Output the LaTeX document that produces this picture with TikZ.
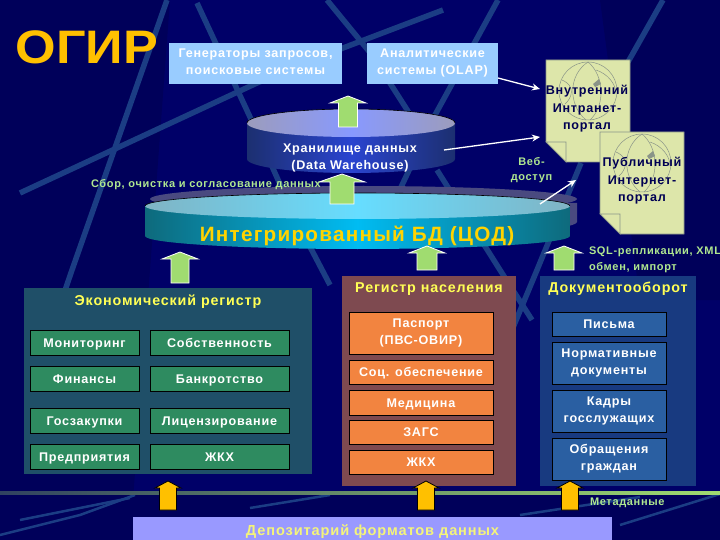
\documentclass[tikz,border=0pt]{standalone}
\usepackage{fontspec}
\setmainfont{Liberation Sans}
\newfontfamily\spc[LetterSpace=6]{Liberation Sans}
\newfontfamily\ttl[FakeStretch=1.11]{Liberation Sans Bold}
\usetikzlibrary{arrows.meta}
\definecolor{bgA}{HTML}{000068}
\definecolor{bgB}{HTML}{00005A}
\definecolor{streak}{HTML}{1B3D84}
\definecolor{ogold}{HTML}{FFC000}
\definecolor{lblue}{HTML}{99CCFF}
\definecolor{lgreen}{HTML}{A0DC70}
\definecolor{txtgreen}{HTML}{B0E890}
\definecolor{hyellow}{HTML}{FFFF55}
\definecolor{docfill}{HTML}{DDE6AA}
\definecolor{docline}{HTML}{8A9488}
\definecolor{pgreen}{HTML}{1F4F68}
\definecolor{bgreen}{HTML}{2E8B60}
\definecolor{pred}{HTML}{7E4A50}
\definecolor{bor}{HTML}{F28440}
\definecolor{pblue}{HTML}{183A80}
\definecolor{bbl}{HTML}{2A5FA2}
\definecolor{dep}{HTML}{9999FF}
\definecolor{wA}{HTML}{1C2F70}
\definecolor{wB}{HTML}{2A44D0}
\definecolor{wC}{HTML}{9C9CBC}
\definecolor{wD}{HTML}{8899FF}
\definecolor{iA}{HTML}{0E6A7C}
\definecolor{iB}{HTML}{00BCF2}
\definecolor{iC}{HTML}{80B4C4}
\definecolor{iD}{HTML}{66DDFF}
\definecolor{rim}{HTML}{4A4A80}
\definecolor{deptxt}{HTML}{F4F47A}
\newcommand{\st}{\rule[-3pt]{0pt}{15pt}}
\newcommand{\stl}{\rule[-3pt]{0pt}{18pt}}
\newcommand{\std}{\rule[-3pt]{0pt}{19.4pt}}
\tikzset{
  x=1pt,y=-1pt,
  every node/.style={inner sep=0pt,outer sep=0pt},
  capbox/.style={rectangle,fill=lblue,text=white,align=center,font=\spc\bfseries\fontsize{12.6}{17}\selectfont,execute at begin node=\stl,execute at end node=\st},
  gbox/.style={rectangle,draw=black,line width=.8pt,fill=bgreen,text=white,align=center,font=\spc\bfseries\fontsize{12.6}{17}\selectfont,execute at begin node=\st,execute at end node=\st},
  obox/.style={gbox,fill=bor},
  bbox/.style={gbox,fill=bbl},
  head/.style={text=hyellow,font=\spc\bfseries\fontsize{14.3}{17}\selectfont,execute at begin node=\st,execute at end node=\st},
  note/.style={text=txtgreen,align=center,font=\spc\bfseries\fontsize{11}{15.5}\selectfont},
  doct/.style={text=bgA!80!black,align=center,font=\spc\bfseries\fontsize{12.6}{17.5}\selectfont},
  wire/.style={draw=white,line width=1.3pt,-{Stealth[length=8pt,width=7pt]}},
  sk/.style={line width=5.5pt,draw=streak},
  sk2/.style={line width=2.5pt,draw=streak},
  docs/.style={fill=docfill,draw=docline,line width=.7pt},
  gl/.style={draw=docline,line width=.5pt},
}
\newcommand{\uparr}[8]{%
  \draw[fill=#7,draw=#8,line width=.8pt] (#1,#2) -- (#1+#5,#3) -- (#1+#6,#3) -- (#1+#6,#4) -- (#1-#6,#4) -- (#1-#6,#3) -- (#1-#5,#3) -- cycle;}
\newcommand{\bodypath}[5]{%
  (#1,#3) -- (#1,#4) .. controls (#1,#4+.5523*#5) and ({#1+.2238*(#2-#1)},#4+#5) .. ({(#1+#2)/2},#4+#5)
  .. controls ({#2-.2238*(#2-#1)},#4+#5) and (#2,#4+.5523*#5) .. (#2,#4) -- (#2,#3) -- cycle}
\newcommand{\docu}[2]{%
  \path[docs] (#1,#2) -- (#1+84,#2) -- (#1+84,#2+102) -- (#1+20,#2+102) -- (#1,#2+82) -- cycle;
  \path[docs] (#1,#2+82) -- (#1+20,#2+82) -- (#1+20,#2+102) -- cycle;
  \draw[gl] (#1+42,#2+31) circle[radius=29pt];
  \draw[gl] (#1+42,#2+2) .. controls (#1+22,#2+15) and (#1+22,#2+45) .. (#1+40,#2+60);
  \draw[gl] (#1+42,#2+2) .. controls (#1+58,#2+15) and (#1+60,#2+45) .. (#1+44,#2+60);
  \draw[gl] (#1+16,#2+20) .. controls (#1+30,#2+26) and (#1+26,#2+38) .. (#1+19,#2+44);
  \draw[gl] (#1+50,#2+10) .. controls (#1+62,#2+14) and (#1+70,#2+24) .. (#1+70,#2+34);
  \fill[docline] (#1+47,#2+24) -- (#1+53,#2+19) -- (#1+55,#2+24) -- (#1+49,#2+27) -- cycle;
}
\begin{document}
\begin{tikzpicture}
\useasboundingbox (0,0) rectangle (720,540);
% background
\fill[bgA] (0,0) rectangle (720,540);
\fill[bgB] (60,0) -- (170,0) -- (130,540) -- (0,540) -- (0,0) -- cycle;
\fill[bgB] (600,0) -- (720,0) -- (720,300) -- (640,300) -- cycle;
\fill[bgB] (0,495) rectangle (720,540);
% streaks
\draw[sk] (167,0) -- (72,270) -- (48,340);
\draw[sk] (197,3) -- (250,117) -- (296,220) -- (330,285);
\draw[sk] (20,193) -- (257,83) -- (343,48) -- (443,10);
\draw[sk] (327,0) -- (372,55) -- (420,130);
\draw[sk] (498,0) -- (435,115) -- (395,200);
\draw[sk] (663,0) -- (628,62);
\draw[sk] (581,163) -- (537,270) -- (512,330);
\draw[sk] (437,170) -- (500,270) -- (532,320);
\draw[sk2] (0,535) -- (80,515) -- (135,495);
\draw[sk2] (20,520) -- (130,498);
\draw[sk2] (250,508) -- (330,495);
\draw[sk2] (520,515) -- (640,497);
\draw[sk2] (620,525) -- (720,494);
% horizontal rule
\shade[left color=bgB!70!lgreen,right color=lgreen,middle color=lgreen!65!bgB] (0,491.5) rectangle (720,494.5);
% title
\node[text=ogold,font=\ttl\fontsize{47}{50}\selectfont] (title) at (87,47) {ОГИР};
% top boxes
\node[capbox,minimum width=173pt,minimum height=41pt] (gen) at (255.5,63.5) {Генераторы запросов,\\поисковые системы};
\node[capbox,minimum width=131pt,minimum height=41pt] (ana) at (432.5,63.5) {Аналитические\\системы (OLAP)};
% documents
\docu{546}{60}
\node[doct] (intra) at (587,109) {Внутренний\\Интранет-\\портал};
\docu{600}{132}
\node[doct] (inter) at (642,181) {Публичный\\Интернет-\\портал};
% warehouse cylinder
\shade[left color=wA,right color=wA,middle color=wB] \bodypath{247}{455}{123}{159}{14};
\shade[left color=wC,right color=wC,middle color=wD] (351,123) ellipse[x radius=104pt,y radius=14pt];
\draw[black,line width=.6pt] (247,123) arc[start angle=180,end angle=360,x radius=104pt,y radius=-14pt];
\node[text=white,align=center,font=\spc\bfseries\fontsize{12.6}{17}\selectfont] (dw) at (350,157.5) {Хранилище данных\\(Data Warehouse)};
% integrated cylinder
\fill[rim] \bodypath{150}{577}{203}{222}{14};
\fill[rim] (363.5,199) ellipse[x radius=213.5pt,y radius=13pt];
\shade[left color=iA,right color=iA,middle color=iB] \bodypath{145}{570}{206}{236}{13};
\shade[left color=iC,right color=iC,middle color=iD] (357.5,206) ellipse[x radius=212.5pt,y radius=13pt];
\draw[black,line width=.6pt] (145,206) arc[start angle=180,end angle=360,x radius=212.5pt,y radius=-13pt];
\node[text=ogold!70!yellow,font=\spc\bfseries\fontsize{20.7}{24}\selectfont] (int) at (357,235.5) {Интегрированный БД (ЦОД)};
% up arrows green
\uparr{348}{96}{103}{127}{18}{9.5}{lgreen}{white}
\uparr{342}{174}{182}{204}{23}{12}{lgreen}{white}
\uparr{180}{252}{259}{283}{18}{9}{lgreen}{white}
\uparr{427}{246}{253}{270}{18}{10}{lgreen}{white}
\uparr{564}{246}{253}{270}{18}{10}{lgreen}{white}
% green notes
\node[note,anchor=west] (sbor) at (91,185) {Сбор, очистка и согласование данных};
\node[note] (web) at (531.5,170) {Веб-\\доступ};
\node[note,align=left,anchor=north west] (sql) at (589,247) {SQL-репликации, XML\\обмен, импорт};
% panels
\fill[pgreen] (24,288) rectangle (312,474);
\fill[pred] (342,276) rectangle (516,486);
\fill[pblue] (540,276) rectangle (696,486);
\node[head] (h1) at (168,301) {Экономический регистр};
\node[head] (h2) at (429,288) {Регистр населения};
\node[head] (h3) at (618,288) {Документооборот};
\node[gbox,minimum width=109pt,minimum height=25pt] (b11) at (84.5,342.5) {Мониторинг};
\node[gbox,minimum width=139pt,minimum height=25pt] (b12) at (219.5,342.5) {Собственность};
\node[gbox,minimum width=109pt,minimum height=25pt] (b21) at (84.5,378.5) {Финансы};
\node[gbox,minimum width=139pt,minimum height=25pt] (b22) at (219.5,378.5) {Банкротство};
\node[gbox,minimum width=109pt,minimum height=25pt] (b31) at (84.5,420.5) {Госзакупки};
\node[gbox,minimum width=139pt,minimum height=25pt] (b32) at (219.5,420.5) {Лицензирование};
\node[gbox,minimum width=109pt,minimum height=25pt] (b41) at (84.5,456.5) {Предприятия};
\node[gbox,minimum width=139pt,minimum height=25pt] (b42) at (219.5,456.5) {ЖКХ};
\node[obox,minimum width=144pt,minimum height=42pt] (o1) at (421,333) {Паспорт\\(ПВС-ОВИР)};
\node[obox,minimum width=144pt,minimum height=24pt] (o2) at (421,372) {Соц. обеспечение};
\node[obox,minimum width=144pt,minimum height=25pt] (o3) at (421,402.5) {Медицина};
\node[obox,minimum width=144pt,minimum height=24pt] (o4) at (421,432) {ЗАГС};
\node[obox,minimum width=144pt,minimum height=24pt] (o5) at (421,462) {ЖКХ};
\node[bbox,minimum width=114pt,minimum height=24pt] (p1) at (609,324) {Письма};
\node[bbox,minimum width=114pt,minimum height=42pt] (p2) at (609,363) {Нормативные\\документы};
\node[bbox,minimum width=114pt,minimum height=42pt] (p3) at (609,411) {Кадры\\госслужащих};
\node[bbox,minimum width=114pt,minimum height=42pt] (p4) at (609,459) {Обращения\\граждан};
% bottom
\node[rectangle,fill=dep,minimum width=479pt,minimum height=23pt,text=deptxt,font=\spc\bfseries\fontsize{14.6}{17}\selectfont,execute at begin node=\std] (dep) at (372.5,528.5) {Депозитарий форматов данных};
\uparr{168}{481}{488}{510}{13}{8.5}{ogold}{black}
\uparr{426}{481}{488}{510}{13}{8.5}{ogold}{black}
\uparr{570}{481}{488}{510}{13}{8.5}{ogold}{black}
\node[note,anchor=west] (meta) at (590,503) {Метаданные};
% wires
\coordinate (w1s) at (498,78);
\coordinate (w1e) at (540,89);
\coordinate (w2s) at (444,150);
\coordinate (w2e) at (540,137);
\coordinate (w3s) at (540,204);
\coordinate (w3e) at (576,180);
\draw[wire] (w1s) -- (w1e);
\draw[wire] (w2s) -- (w2e);
\draw[wire] (w3s) -- (w3e);
\end{tikzpicture}
\end{document}
